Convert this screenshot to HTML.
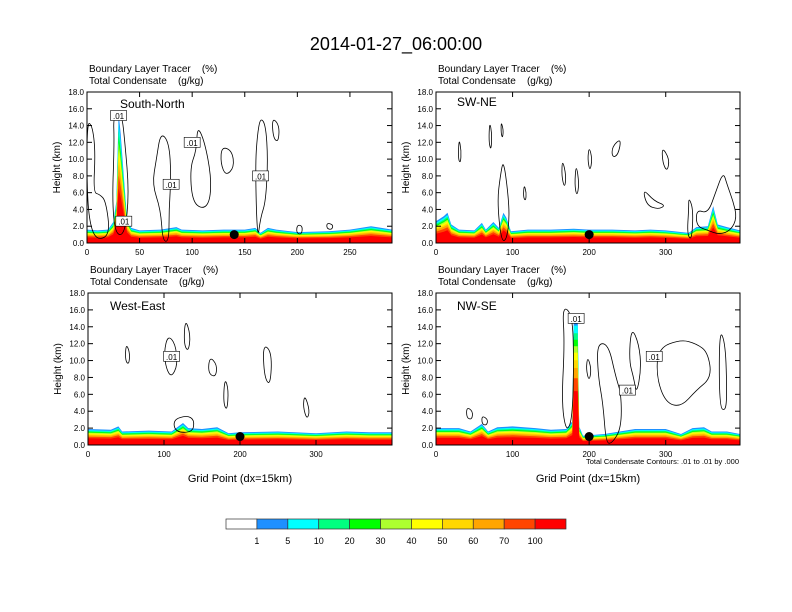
<!DOCTYPE html>
<html><head><meta charset="utf-8">
<style>
body{margin:0;background:#fff;}
svg{display:block;font-family:"Liberation Sans",Arial,sans-serif;}
text{white-space:pre;}
</style></head>
<body>
<svg id="chart" width="792" height="612" viewBox="0 0 792 612" xmlns="http://www.w3.org/2000/svg">
<text x="396" y="50" text-anchor="middle" font-size="18">2014-01-27_06:00:00</text>
<g id="panels"></g>
<g id="cbar"></g>
</svg>
<script>
const levelLabels = ["1","5","10","20","30","40","50","60","70","100"];
const levelColors = ["#ffffff","#1e90ff","#00ffff","#00ff80","#00ff00","#adff2f","#ffff00","#ffd700","#ffa500","#ff4500","#ff0000"];
const layerFractions = [1.0,0.93,0.87,0.82,0.77,0.72,0.66,0.6,0.52,0.42];

const panelNames = ["South-North","SW-NE","West-East","NW-SE"];
const xTicksTL = [0,50,100,150,200,250];
const xTicks4 = [0,100,200,300];
const yTicks = [0,2,4,6,8,10,12,14,16,18];

const tracerTL = [[0,1.6],[10,1.5],[20,1.6],[25,2.5],[28,5],[30,15.5],[32,13],[35,8],[38,3],[42,1.8],[50,1.5],[70,1.6],[85,1.9],[90,1.6],[110,1.5],[130,1.6],[150,1.6],[160,1.8],[165,1.2],[172,1.8],[180,1.6],[200,1.3],[230,1.4],[250,1.6],[270,2.0],[280,1.8],[290,1.6]];
const tracerTR = [[0,2.6],[10,3.2],[15,3.6],[20,2.2],[30,1.6],[50,1.5],[60,2.4],[65,1.6],[75,2.5],[82,1.8],[88,3.6],[92,3.0],[98,1.4],[120,1.6],[150,1.6],[180,1.7],[200,1.6],[230,1.6],[260,1.5],[280,1.6],[300,1.5],[330,1.2],[340,1.9],[355,2.0],[362,4.4],[368,2.2],[380,1.9],[397,1.5]];
const tracerBL = [[0,1.9],[30,1.8],[40,2.2],[45,1.6],[80,1.7],[110,1.6],[125,2.6],[132,2.0],[150,1.9],[170,2.1],[185,1.4],[200,1.5],[250,1.6],[300,1.4],[340,1.6],[370,1.5],[400,1.5]];
const tracerBR = [[0,2.0],[30,2.0],[45,1.6],[60,2.5],[68,1.6],[80,2.1],[100,2.2],[130,2.0],[150,1.8],[170,1.9],[178,2.8],[180,15.2],[185,15.2],[187,2.2],[192,1.1],[220,1.3],[260,1.9],[300,1.9],[320,1.3],[335,2.0],[350,2.1],[360,1.6],[380,1.6],[397,1.3]];
const tracerData = [tracerTL,tracerTR,tracerBL,tracerBR];

const contoursTL = [
 [[0,14.5],[5,14],[8,11],[6,6],[12,5.8],[18,5],[22,1],[10,0.3],[3,2],[0,6]],
 [[25,15.3],[33,15.5],[36,12],[40,6],[36,1],[27,1],[24,5],[26,12]],
 [[70,13.2],[78,12],[80,8],[78,4],[78,0.2],[72,0.2],[70,4],[62,7],[66,10]],
 [[105,14],[112,12],[118,8],[117,5],[110,4],[100,5],[98,9],[104,11]],
 [[128,11.5],[138,11],[140,9],[132,8],[127,9.5]],
 [[165,15],[170,14],[172,10],[170,5],[165,3],[162,0.2],[160,9],[162,13]],
 [[176,15],[183,14],[182,12],[177,12.5]],
 [[200,2.2],[205,2],[204,1],[199,1.2]],[[228,2.4],[234,2.2],[233,1.6],[228,1.7]]
];
const contoursTR = [
 [[30,12.5],[33,11],[32,9.5],[29,10]],[[70,14.5],[73,13],[72,11],[69,12]],[[85,14.5],[88,13.5],[87,12.5],[85,13]],
 [[88,10],[94,6],[96,3],[92,0.3],[85,0.3],[80,5],[84,8]],
 [[115,7],[118,6],[117,5],[114,5.5]],[[165,10],[170,8],[168,6.5],[164,8]],[[183,9.5],[187,7],[184,5.5],[181,7]],
 [[200,11.5],[204,10],[201,8.5],[198,10]],[[230,11.5],[242,12.5],[238,10.5],[230,10.2]],
 [[295,11.5],[305,10],[302,8.5],[296,9.5]],[[270,6.5],[285,5],[300,4.5],[290,4],[275,4.5]],
 [[330,5.5],[336,4],[334,0.3],[328,1],[330,4]],[[340,4],[355,3.5],[365,6],[375,8.5],[380,7],[388,5],[393,3],[385,1.5],[370,1],[355,1.5],[340,2]]
];
const contoursBL = [
 [[50,12],[55,11],[54,9.5],[49,10]],[[105,13],[115,12],[118,9.5],[110,8],[103,9],[100,11]],
 [[128,15],[135,13],[132,11],[126,12]],[[160,10.5],[170,9.5],[168,8],[158,8.5]],
 [[180,8],[185,6.5],[183,4],[178,5]],[[230,12],[242,11],[240,7],[232,8]],[[285,6],[292,4],[288,3],[283,4.5]],
 [[112,3],[130,3.5],[140,3],[138,1.5],[115,1.5]]
];
const contoursBR = [
 [[40,4.5],[48,4],[47,3],[40,3.2]],[[60,3.5],[68,3],[66,2.3],[60,2.5]],
 [[165,16.5],[178,15.5],[180,10],[178,3],[170,1.5],[164,5],[168,12]],
 [[198,10.5],[203,9],[200,7.5],[196,9]],
 [[210,12],[225,12],[235,8],[242,6],[242,2],[230,0.2],[222,0.2],[218,5],[212,8]],
 [[255,14],[265,12],[268,9],[262,6],[258,8],[252,10]],
 [[290,11.5],[320,12.5],[340,12],[355,11],[360,8],[340,6.5],[320,4.5],[300,5],[288,8]],
 [[370,13.8],[378,12],[380,6],[378,4],[370,4.5]]
];
const contourData = [contoursTL,contoursTR,contoursBL,contoursBR];
const dotX = [140,200,200,200];
const dotY = [1.0,1.0,1.0,1.0];
const labelPos = [
 [[30,15.2],[100,12],[80,7],[165,8],[35,2.6]],
 [],
 [[110,10.5]],
 [[183,15],[285,10.5],[250,6.5]]
];

const panelBoxes = [
 {x0:87,x1:392,y0:92,y1:243,xmax:290,ticks:xTicksTL,lx:120,ly:108},
 {x0:436,x1:740,y0:92,y1:243,xmax:397,ticks:xTicks4,lx:457,ly:106},
 {x0:88,x1:392,y0:293,y1:445,xmax:400,ticks:xTicks4,lx:110,ly:310},
 {x0:436,x1:740,y0:293,y1:445,xmax:397,ticks:xTicks4,lx:457,ly:310}
];
const NS="http://www.w3.org/2000/svg";
function mk(tag,attrs,parent){const e=document.createElementNS(NS,tag);for(const k in attrs)e.setAttribute(k,attrs[k]);parent.appendChild(e);return e;}
function smoothClosed(pts){
 const n=pts.length;let d='';
 for(let i=0;i<n;i++){
  const a=pts[i],b=pts[(i+1)%n];
  const m=[(a[0]+b[0])/2,(a[1]+b[1])/2];
  if(i===0){const z=pts[n-1];d='M'+((z[0]+a[0])/2).toFixed(1)+','+((z[1]+a[1])/2).toFixed(1);}
  d+=' Q'+a[0].toFixed(1)+','+a[1].toFixed(1)+' '+m[0].toFixed(1)+','+m[1].toFixed(1);
 }
 return d+' Z';
}
const root=document.getElementById('panels');

panelBoxes.forEach((b,i)=>{
 const g=mk('g',{},root);
 
 
 const sx=v=>b.x0+(b.x1-b.x0)*v/b.xmax;
 const sy=v=>b.y1-(b.y1-b.y0)*v/18;
 const clipId='c'+i;
 const cp=mk('clipPath',{id:clipId},g);mk('rect',{x:b.x0,y:b.y0,width:b.x1-b.x0,height:b.y1-b.y0},cp);
 const t1=mk('text',{x:b.x0+2,y:b.y0-20,'font-size':10},g);t1.textContent='Boundary Layer Tracer    (%)';
 
 const t2=mk('text',{x:b.x0+2,y:b.y0-8,'font-size':10},g);t2.textContent='Total Condensate    (g/kg)';
 
 const dg=mk('g',{'clip-path':'url(#'+clipId+')'},g);
 const tr=tracerData[i];
 layerFractions.forEach((f,k)=>{
  let d='M'+sx(tr[0][0])+','+sy(0);
  tr.forEach(p=>{d+=' L'+sx(p[0]).toFixed(1)+','+sy(p[1]*f).toFixed(1);});
  d+=' L'+sx(tr[tr.length-1][0])+','+sy(0)+' Z';
  const p=mk('path',{d:d,fill:levelColors[k+1]},dg);
  
  
 });
 contourData[i].forEach((c,j)=>{
  const d=smoothClosed(c.map(p=>[sx(p[0]),sy(p[1])]));
  const p=mk('path',{d:d,fill:'none',stroke:'#000','stroke-width':0.8},dg);
  
  
 });
 labelPos[i].forEach(lp=>{
  const r=mk('rect',{x:sx(lp[0])-8,y:sy(lp[1])-5,width:16,height:10,fill:'#fff',stroke:'#000','stroke-width':0.6},dg);
  
  const t=mk('text',{x:sx(lp[0]),y:sy(lp[1])+3.5,'font-size':8,'text-anchor':'middle'},dg);t.textContent='.01';
  
 });
 const dot=mk('circle',{cx:sx(dotX[i]),cy:sy(dotY[i]),r:4.5,fill:'#000'},dg);
 
 const fr=mk('rect',{x:b.x0,y:b.y0,width:b.x1-b.x0,height:b.y1-b.y0,fill:'none',stroke:'#000','stroke-width':1},g);
 
 yTicks.forEach(v=>{
  mk('line',{x1:b.x0,x2:b.x0+5,y1:sy(v),y2:sy(v),stroke:'#000'},g);
  mk('line',{x1:b.x1,x2:b.x1-5,y1:sy(v),y2:sy(v),stroke:'#000'},g);
  const t=mk('text',{x:b.x0-3,y:sy(v)+3,'font-size':8,'text-anchor':'end'},g);t.textContent=v.toFixed(1);
  
 });
 b.ticks.forEach(v=>{
  mk('line',{x1:sx(v),x2:sx(v),y1:b.y1,y2:b.y1-5,stroke:'#000'},g);
  mk('line',{x1:sx(v),x2:sx(v),y1:b.y0,y2:b.y0+5,stroke:'#000'},g);
  const t=mk('text',{x:sx(v),y:b.y1+12,'font-size':8,'text-anchor':'middle'},g);t.textContent=v;
  
 });
 const yt=mk('text',{x:0,y:0,'font-size':10,'text-anchor':'middle',transform:'translate('+(b.x0-27)+','+((b.y0+b.y1)/2)+') rotate(-90)'},g);
 yt.textContent='Height (km)';
 const nl=mk('text',{x:b.lx,y:b.ly,'font-size':12},g);nl.textContent=panelNames[i];
 
 if(i>=2){
  const xt=mk('text',{x:(b.x0+b.x1)/2,y:482,'font-size':11,'text-anchor':'middle'},g);xt.textContent='Grid Point (dx=15km)';
  
 }
 if(i===3){
  const n=mk('text',{x:739,y:464,'font-size':7.5,'text-anchor':'end'},g);n.textContent='Total Condensate Contours: .01 to .01 by .000';
  
 }
});

const cb=document.getElementById('cbar');
const cbx0=226,cbw=340/11;
levelColors.forEach((c,k)=>{
 const r=mk('rect',{x:cbx0+k*cbw,y:519,width:cbw,height:10,fill:c,stroke:'#333','stroke-width':0.7},cb);
 
});
levelLabels.forEach((l,k)=>{
 const t=mk('text',{x:cbx0+(k+1)*cbw,y:544,'font-size':9,'text-anchor':'middle'},cb);t.textContent=l;
 
});
</script>
</body></html>
